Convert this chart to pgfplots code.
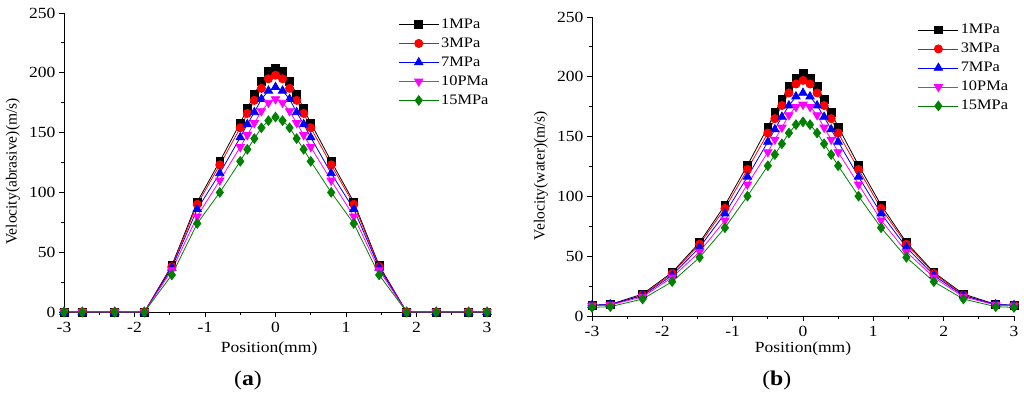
\documentclass[border=0pt]{standalone}
\usepackage{fontspec}
\setmainfont{Liberation Serif}[FakeStretch=1.13]
\newfontfamily\plainserif{Liberation Serif}
\usepackage{pgfplots}
\usepackage{pgfplotstable}
\pgfplotsset{compat=1.18}
\definecolor{cgreen}{RGB}{0,128,0}
\definecolor{cmag}{RGB}{255,0,255}

\pgfplotstableread{
x p1 p3 p7 p10 p15
-3 0 0 0 0 0
-2.74 0 0 0 0 0
-2.28 0 0 0 0 0
-1.86 0 0 0 0 0
-1.47 39 38 37 35 31
-1.11 92 90 86 80 74
-0.79 126 123 116 110 100
-0.5 158 154 146 138 126
-0.4 170 166 157 148 136
-0.3 182 177 167 158 145
-0.2 193 187 178 168 154
-0.1 201 195 185 175 160
0 204 198 188 178 163
0.1 201 195 185 175 160
0.2 193 187 178 168 154
0.3 182 177 167 158 145
0.4 170 166 157 148 136
0.5 158 154 146 138 126
0.79 126 123 116 110 100
1.11 92 90 86 80 74
1.47 39 38 37 35 31
1.86 0 0 0 0 0
2.28 0 0 0 0 0
2.74 0 0 0 0 0
3 0 0 0 0 0
}\tabA

\pgfplotstableread{
x p1 p3 p7 p10 p15
-3 9 8.9 9 8.6 7.2
-2.74 9.7 9.2 9.7 9.2 7.8
-2.28 18.4 17.5 17 16 14.2
-1.86 36.5 35.6 34 32.3 28.7
-1.47 61.5 60 57.4 53.7 49
-1.11 92.7 90 85.7 80 73.8
-0.79 126 122.5 116.4 110 100.2
-0.5 158 153 145.6 137 125.6
-0.4 170 165 156 147.5 135
-0.3 181 176 166.5 157.6 144
-0.2 192 186.5 176 168 153
-0.1 199 194 183.5 174.8 160
0 203 197 186.5 176.8 162.3
0.1 199 194 183.5 174.8 160
0.2 192 186.5 176 168 153
0.3 181 176 166.5 157.6 144
0.4 170 165 156 147.5 135
0.5 158 153 145.6 137 125.6
0.79 126 122.5 116.4 110 100.2
1.11 92.7 90 85.7 80 73.8
1.47 61.5 60 57.4 53.7 49
1.86 36.5 35.6 34 32.3 28.7
2.28 18.4 17.5 17 16 14.2
2.74 9.7 9.2 9.7 9.2 7.8
3 9 8.9 9 8.6 7.2
}\tabB

\pgfplotsset{
  myax/.style={
    scale only axis,
    anchor=south west,
    axis x line*=bottom, axis y line*=left,
    tick align=outside,
    major tick length=5pt, minor tick length=3pt,
    xmin=-3, xmax=3, ymin=0, ymax=250,
    xtick={-3,-2,...,3}, ytick={0,50,...,250},
    minor x tick num=1, minor y tick num=1,
    font=\fontsize{15.5}{18}\selectfont,
    /pgf/number format/assume math mode=true,
    xticklabel style={yshift=-2pt},
    every tick/.style={black, line width=0.9pt},
    axis line style={line width=0.9pt},
    clip=false,
    legend cell align=left,
    legend style={draw=none, fill=none, inner sep=0pt, row sep=2.5pt, column sep=0pt,
      anchor=north west, font=\fontsize{14.5}{16}\selectfont,
      nodes={inner xsep=2pt, inner ysep=2.5pt, text height=9.5pt, text depth=2pt}},
    legend image code/.code={\draw[mark repeat=2,mark phase=2] plot coordinates {(0pt,0pt)(20pt,0pt)(40pt,0pt)};},
    every axis plot/.append style={line width=0.8pt},
  },
  s1/.style={black, mark=square*, mark size=3.9pt, mark options={solid}},
  s3/.style={red, mark=*, mark size=4.1pt},
  s7/.style={blue, mark=triangle*, mark size=4.8pt},
  s10/.style={cmag, mark=triangle*, mark size=4.8pt, mark options={rotate=180}},
  s15/.style={cgreen, mark=diamond*, mark size=4.8pt},
}

\begin{document}
\begin{tikzpicture}
\useasboundingbox (0,0) rectangle (1024pt,399pt);
\begin{axis}[myax, at={(64pt,87pt)}, width=423pt, height=299pt,
  xlabel={Position(mm)}, ylabel={\plainserif Velocity(abrasive)(m/s)},
  xlabel style={at={([yshift=-37pt]rel axis cs:0.485,0)}, anchor=center},
  ylabel style={at={([xshift=-51pt]rel axis cs:0,0.47)}, anchor=center},
  legend style={at={(0.79,0.99)}}]
\addplot[s1] table[x=x,y=p1] {\tabA};
\addplot[s3] table[x=x,y=p3] {\tabA};
\addplot[s7] table[x=x,y=p7] {\tabA};
\addplot[s10] table[x=x,y=p10] {\tabA};
\addplot[s15] table[x=x,y=p15] {\tabA};
\legend{1MPa,3MPa,7MPa,10PMa,15MPa}
\node[font=\fontsize{21}{24}\selectfont] at ([yshift=-68pt]rel axis cs:0.435,0) {(\textbf{a})};
\end{axis}
\begin{axis}[myax, at={(592pt,83pt)}, width=422pt, height=299pt,
  xlabel={Position(mm)}, ylabel={\plainserif Velocity(water)(m/s)},
  xlabel style={at={([yshift=-33pt]rel axis cs:0.5,0)}, anchor=center},
  ylabel style={at={([xshift=-51pt]rel axis cs:0,0.47)}, anchor=center},
  legend style={at={(0.772,0.985)}}]
\addplot[s1] table[x=x,y=p1] {\tabB};
\addplot[s3] table[x=x,y=p3] {\tabB};
\addplot[s7] table[x=x,y=p7] {\tabB};
\addplot[s10] table[x=x,y=p10] {\tabB};
\addplot[s15] table[x=x,y=p15] {\tabB};
\legend{1MPa,3MPa,7MPa,10PMa,15MPa}
\node[font=\fontsize{21}{24}\selectfont] at ([yshift=-64pt]rel axis cs:0.438,0) {(\textbf{b})};
\end{axis}
\end{tikzpicture}
\end{document}
